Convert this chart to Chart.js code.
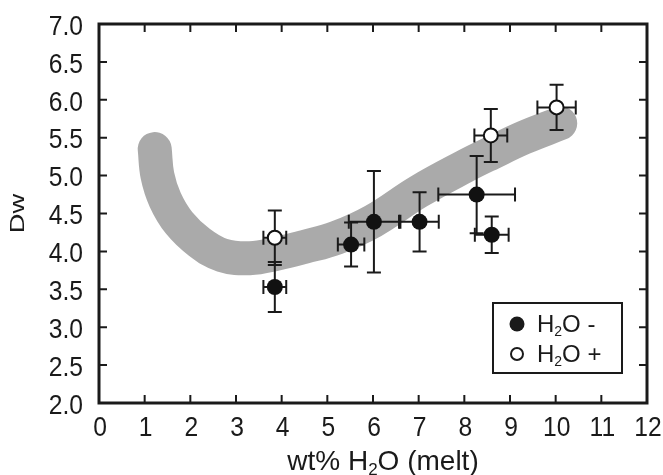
<!DOCTYPE html>
<html>
<head>
<meta charset="utf-8">
<script src="https://cdn.jsdelivr.net/npm/chart.js@4"></script>
<style>
  html, body { margin: 0; padding: 0; background: #fff; }
  #wrap { width: 663px; height: 475px; }
</style>
</head>
<body>
<div id="wrap"><canvas id="dwChart" width="663" height="475"></canvas></div>
<script>
// H2O - (filled) points with error bars
const xMinus = [3.85, 5.52, 6.02, 7.02, 8.27, 8.6];
const yMinus = [3.53, 4.09, 4.39, 4.39, 4.75, 4.22];
const xErrMinus = [0.25, 0.29, 0.55, 0.42, 0.84, 0.37];
const yErrMinus = [0.33, 0.29, 0.67, 0.39, 0.51, 0.24];

// H2O + (open) points
const xPlus = [3.85, 8.58, 10.02];
const yPlus = [4.18, 5.53, 5.90];
const xErrPlus = [0.25, 0.36, 0.42];
const yErrPlus = [0.36, 0.35, 0.30];

// grey trend band, centre line
const bandX = [1.22, 1.28, 1.45, 1.75, 2.2, 2.7, 3.3, 3.9, 4.5, 5.2, 6.0, 7.0, 8.0, 8.6, 9.3, 10.1];
const bandY = [5.35, 5.0, 4.68, 4.38, 4.12, 3.95, 3.91, 3.97, 4.06, 4.18, 4.4, 4.79, 5.12, 5.30, 5.5, 5.69];

const xTicks = [0, 1, 2, 3, 4, 5, 6, 7, 8, 9, 10, 11, 12];
const yTicks = [2.0, 2.5, 3.0, 3.5, 4.0, 4.5, 5.0, 5.5, 6.0, 6.5, 7.0];

const toPts = (xs, ys) => xs.map((x, i) => ({ x: x, y: ys[i] }));
const errs = { 0: [xErrMinus, yErrMinus], 1: [xErrPlus, yErrPlus] };

const SANS = "'Liberation Sans', Arial, sans-serif";
const INK = '#1a1a1a';

// error bars go under the markers of their own dataset
const errorBars = {
  id: 'errorBars',
  beforeDatasetDraw(chart, args) {
    const e = errs[args.index];
    if (!e) return;
    const ctx = chart.ctx, xs = chart.scales.x, ys = chart.scales.y;
    const data = chart.data.datasets[args.index].data;
    const cap = 7;
    ctx.save();
    ctx.strokeStyle = INK;
    ctx.lineWidth = 2;
    data.forEach((p, i) => {
      const px = xs.getPixelForValue(p.x), py = ys.getPixelForValue(p.y);
      const x0 = xs.getPixelForValue(p.x - e[0][i]), x1 = xs.getPixelForValue(p.x + e[0][i]);
      const y0 = ys.getPixelForValue(p.y - e[1][i]), y1 = ys.getPixelForValue(p.y + e[1][i]);
      ctx.beginPath();
      ctx.moveTo(x0, py); ctx.lineTo(x1, py);
      ctx.moveTo(x0, py - cap); ctx.lineTo(x0, py + cap);
      ctx.moveTo(x1, py - cap); ctx.lineTo(x1, py + cap);
      ctx.moveTo(px, y0); ctx.lineTo(px, y1);
      ctx.moveTo(px - cap, y0); ctx.lineTo(px + cap, y0);
      ctx.moveTo(px - cap, y1); ctx.lineTo(px + cap, y1);
      ctx.stroke();
    });
    ctx.restore();
  }
};

// draw "H2O" style text with a lowered small 2, returns end x
function subText(ctx, parts, x, y, size) {
  parts.forEach(([txt, sub]) => {
    ctx.font = (sub ? Math.round(size * 0.6) : size) + 'px ' + SANS;
    ctx.fillText(txt, x, sub ? y + size * 0.18 : y);
    x += ctx.measureText(txt).width;
  });
  return x;
}

// condensed-looking tick label (the original figure is squeezed sideways)
function narrowText(ctx, txt, x, y) {
  ctx.save();
  ctx.translate(x, y);
  ctx.scale(0.88, 1);
  ctx.fillText(txt, 0, 0);
  ctx.restore();
}

const frame = {
  id: 'frame',
  afterDraw(chart) {
    const ctx = chart.ctx, a = chart.chartArea;
    const xs = chart.scales.x, ys = chart.scales.y;
    ctx.save();
    ctx.strokeStyle = INK;
    ctx.fillStyle = INK;
    // inward ticks on all four sides
    ctx.lineWidth = 2;
    ctx.beginPath();
    xTicks.forEach(v => {
      const px = xs.getPixelForValue(v);
      ctx.moveTo(px, a.bottom); ctx.lineTo(px, a.bottom - 8);
      ctx.moveTo(px, a.top); ctx.lineTo(px, a.top + 8);
    });
    yTicks.forEach(v => {
      const py = ys.getPixelForValue(v);
      ctx.moveTo(a.left, py); ctx.lineTo(a.left + 8, py);
      ctx.moveTo(a.right, py); ctx.lineTo(a.right - 8, py);
    });
    ctx.stroke();
    ctx.lineWidth = 3;
    ctx.strokeRect(a.left, a.top, a.right - a.left, a.bottom - a.top);

    // tick labels
    ctx.font = '28px ' + SANS;
    ctx.textBaseline = 'middle';
    ctx.textAlign = 'center';
    xTicks.forEach(v => narrowText(ctx, String(v), xs.getPixelForValue(v) + 1, a.bottom + 25));
    ctx.textAlign = 'right';
    yTicks.forEach(v => narrowText(ctx, v.toFixed(1), a.left - 16, ys.getPixelForValue(v) + 3));

    // legend box
    ctx.lineWidth = 2;
    ctx.fillStyle = '#fff';
    ctx.fillRect(493, 303, 129, 70);
    ctx.strokeRect(493, 303, 129, 70);
    ctx.fillStyle = INK;
    ctx.beginPath(); ctx.arc(517, 324, 7.5, 0, Math.PI * 2); ctx.fill();
    ctx.beginPath(); ctx.arc(517, 354, 6, 0, Math.PI * 2); ctx.stroke();
    ctx.textBaseline = 'alphabetic';
    ctx.textAlign = 'left';
    subText(ctx, [['H', 0], ['2', 1], ['O -', 0]], 537, 332, 24);
    subText(ctx, [['H', 0], ['2', 1], ['O +', 0]], 537, 362, 24);

    // x axis title
    const parts = [['wt% H', 0], ['2', 1], ['O (melt)', 0]];
    let w = 0;
    parts.forEach(([t, s]) => { ctx.font = (s ? 17 : 28) + 'px ' + SANS; w += ctx.measureText(t).width; });
    subText(ctx, parts, (a.left + a.right) / 2 - w / 2 + 10, 470, 28);

    // y axis title
    ctx.translate(24, (a.top + a.bottom) / 2);
    ctx.rotate(-Math.PI / 2);
    ctx.scale(1.3, 1);
    ctx.font = '21px ' + SANS;
    ctx.textAlign = 'center';
    ctx.fillText('Dw', 0, 0);
    ctx.restore();
  }
};

new Chart(document.getElementById('dwChart'), {
  type: 'scatter',
  data: {
    datasets: [
      {
        label: 'H2O -',
        data: toPts(xMinus, yMinus),
        pointRadius: 8,
        pointBackgroundColor: '#111',
        pointBorderColor: '#111',
        pointBorderWidth: 0,
        order: 2
      },
      {
        label: 'H2O +',
        data: toPts(xPlus, yPlus),
        pointRadius: 7,
        pointBackgroundColor: '#fff',
        pointBorderColor: '#111',
        pointBorderWidth: 2,
        order: 1
      },
      {
        label: 'trend',
        data: toPts(bandX, bandY),
        showLine: true,
        pointRadius: 0,
        borderColor: '#aaaaaa',
        borderWidth: 34,
        borderCapStyle: 'round',
        borderJoinStyle: 'round',
        tension: 0.4,
        order: 3
      }
    ]
  },
  options: {
    responsive: false,
    animation: false,
    events: [],
    layout: { autoPadding: false, padding: { top: 24, right: 16, left: 0, bottom: 0 } },
    plugins: { legend: { display: false }, tooltip: { enabled: false } },
    scales: {
      x: {
        type: 'linear', min: 0, max: 12,
        afterBuildTicks: s => { s.ticks = xTicks.map(v => ({ value: v })); },
        afterFit: s => { s.height = 72; s.paddingLeft = 0; s.paddingRight = 0; },
        grid: { display: false, drawTicks: false },
        border: { display: false },
        ticks: { display: false }
      },
      y: {
        type: 'linear', min: 2, max: 7,
        afterBuildTicks: s => { s.ticks = yTicks.map(v => ({ value: v })); },
        afterFit: s => { s.width = 99; s.paddingTop = 0; s.paddingBottom = 0; },
        grid: { display: false, drawTicks: false },
        border: { display: false },
        ticks: { display: false }
      }
    }
  },
  plugins: [errorBars, frame]
});
</script>
</body>
</html>
